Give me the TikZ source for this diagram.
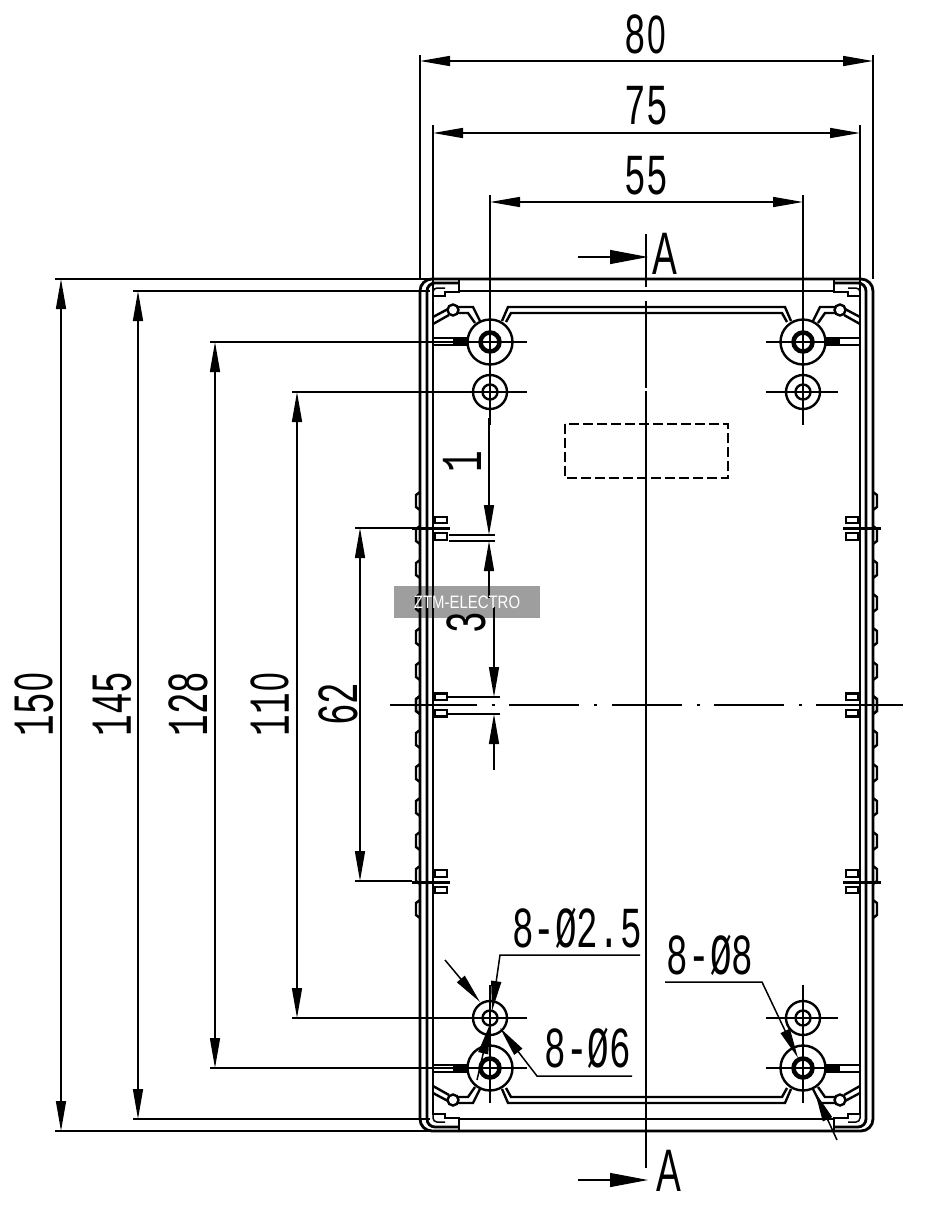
\documentclass[tikz,border=0pt]{standalone}
\usepackage{fontspec}
\setmainfont{Liberation Sans}
\newfontfamily\cadfont{Liberation Mono}
\usetikzlibrary{arrows.meta}
\tikzset{
	wall/.style={line width=2.8pt},
	body/.style={line width=2.4pt},
	thin line/.style={line width=1.5pt},
	center line/.style={line width=1.7pt},
	dim/.style={line width=1.5pt, {Triangle[length=30pt,width=10pt]}-{Triangle[length=30pt,width=10pt]}},
	tip/.style={line width=1.5pt, -{Triangle[length=30pt,width=10pt]}},
	section/.style={line width=1.2pt, -{Triangle[length=38pt,width=14pt]}},
	size/.style={inner sep=0pt, font=\cadfont\fontsize{58pt}{58pt}\selectfont},
	letter/.style={inner sep=0pt, font=\fontsize{60pt}{60pt}\selectfont}
}
\newcommand{\cadtext}[1]{\scalebox{0.62}[1]{#1}}
% the mono face has a dotted zero, the drawing a plain one
\newcommand{\cadzero}{\makebox[34.8pt]{\rmfamily\fontsize{54pt}{54pt}\selectfont 0}}
\begin{document}
\begin{tikzpicture}[x=1pt, y=-1pt]
	\useasboundingbox (0, 0) rectangle (935, 1205);

	% body outline
	\draw[wall, rounded corners=12pt] (420, 279) rectangle (873, 1131);
	\draw[wall] (459, 291) -- (833, 291);
	\draw[wall] (459, 1119) -- (833, 1119);

	% one quarter, mirrored four times
	\foreach \sx/\sy in {1/1, -1/1, 1/-1, -1/-1} {
		\begin{scope}[shift={(646.5, 705)}, xscale=\sx, yscale=\sy, shift={(-646.5, -705)}]
			\draw[wall, rounded corners=8pt] (427, 705) -- (427, 283) -- (459, 283);
			\draw[body] (433, 705) -- (433, 296) -- (445, 296) -- (445, 292) -- (459, 292) -- (459, 279);
			\draw[thin line, rounded corners=4pt] (433, 296) -- (433, 288) -- (445, 288);
			\draw[body] (433, 338) -- (467, 338);
			\fill (453, 339) rectangle (467, 346);
			\draw[body] (433, 345) -- (467, 345);
			% pocket and corner post
			\draw[body] (433, 317) -- (448, 309) (458, 307) -- (473, 307) -- (480, 321);
			\draw[body] (433, 324) -- (449, 315) (458, 313) -- (468, 313) -- (475, 323);
			\draw[body] (453, 310) circle[radius=5.5];
			\draw[body] (502, 321) -- (508, 307) -- (646.5, 307);
			\draw[body] (506, 322) -- (511, 313) -- (646.5, 313);
			% screw posts
			\draw[fill=white, body] (490, 342) circle[radius=22.5];
			\draw[line width=4.5pt] (490, 342) circle[radius=9.5];
			\draw[body] (490, 392) circle[radius=17];
			\draw[body] (490, 392) circle[radius=7.5];
			\draw[center line] (453, 342) -- (527, 342);
			\draw[center line] (455, 392) -- (527, 392);
			\draw[center line] (490, 307) -- (490, 425);
			% clips and side ribs
			\foreach \ya in {528, 705} {
				\draw[body] (435, \ya-11) rectangle (447, \ya-5);
				\draw[body] (435, \ya+5) rectangle (447, \ya+12);
			}
			\foreach \k in {0, ..., 6} {
				\draw[body] (420, 705-34*\k-9) -- (416, 705-34*\k-6) -- (416, 705-34*\k+6) -- (420, 705-34*\k+9);
			}
			\draw[line width=3pt] (412, 528) -- (450, 528);
		\end{scope}
	}

	% dashed window
	\draw[body, dash pattern=on 10pt off 4pt] (565, 424) rectangle (728, 478);

	% centre lines
	\draw[center line] (646, 234) -- (646, 287);
	\draw[center line] (646, 301) -- (646, 388);
	\draw[center line] (646, 391) -- (646, 1168);
	\draw[center line] (390, 705) -- (477, 705);
	\draw[center line] (492, 705) -- (495, 705);
	\draw[center line] (509, 705) -- (579, 705);
	\draw[center line] (594, 705) -- (597, 705);
	\draw[center line] (612, 705) -- (682, 705);
	\draw[center line] (697, 705) -- (700, 705);
	\draw[center line] (714, 705) -- (784, 705);
	\draw[center line] (799, 705) -- (802, 705);
	\draw[center line] (816, 705) -- (903, 705);

	% section marks
	\coordinate (a_top_s) at (578, 257);
	\coordinate (a_top_e) at (648, 257);
	\coordinate (a_bot_s) at (578, 1180);
	\coordinate (a_bot_e) at (648, 1180);
	\draw[section] (a_top_s) -- (a_top_e);
	\draw[section] (a_bot_s) -- (a_bot_e);
	\node[letter] (a_top) at (665, 254) {\cadtext{A}};
	\node[letter] (a_bot) at (669, 1171) {\cadtext{A}};

	% extension lines
	\draw[thin line] (420, 55) -- (420, 279);
	\draw[thin line] (873, 55) -- (873, 279);
	\draw[thin line] (433, 125) -- (433, 296);
	\draw[thin line] (860, 125) -- (860, 296);
	\draw[thin line] (490, 195) -- (490, 307);
	\draw[thin line] (803, 195) -- (803, 307);
	\draw[thin line] (55, 279) -- (430, 279);
	\draw[thin line] (55, 1131) -- (430, 1131);
	\draw[thin line] (133, 291) -- (430, 291);
	\draw[thin line] (133, 1119) -- (430, 1119);
	\draw[thin line] (210, 342) -- (453, 342);
	\draw[thin line] (210, 1068) -- (453, 1068);
	\draw[thin line] (292, 392) -- (455, 392);
	\draw[thin line] (292, 1018) -- (455, 1018);
	\draw[thin line] (355, 528) -- (412, 528);
	\draw[thin line] (355, 881) -- (412, 881);
	\draw[thin line] (449, 535) -- (495, 535);
	\draw[thin line] (449, 541) -- (495, 541);
	\draw[thin line] (447, 697) -- (500, 697);
	\draw[thin line] (447, 714) -- (500, 714);

	% dimensions
	\coordinate (d80_a) at (420, 61);
	\coordinate (d80_b) at (873, 61);
	\coordinate (d75_a) at (433, 133);
	\coordinate (d75_b) at (860, 133);
	\coordinate (d55_a) at (490, 202);
	\coordinate (d55_b) at (803, 202);
	\coordinate (d150_a) at (61, 279);
	\coordinate (d150_b) at (61, 1131);
	\coordinate (d145_a) at (138, 291);
	\coordinate (d145_b) at (138, 1119);
	\coordinate (d128_a) at (215, 342);
	\coordinate (d128_b) at (215, 1068);
	\coordinate (d110_a) at (297, 392);
	\coordinate (d110_b) at (297, 1018);
	\coordinate (d62_a) at (360, 528);
	\coordinate (d62_b) at (360, 881);
	\draw[dim] (d80_a) -- (d80_b);
	\draw[dim] (d75_a) -- (d75_b);
	\draw[dim] (d55_a) -- (d55_b);
	\draw[dim] (d150_a) -- (d150_b);
	\draw[dim] (d145_a) -- (d145_b);
	\draw[dim] (d128_a) -- (d128_b);
	\draw[dim] (d110_a) -- (d110_b);
	\draw[dim] (d62_a) -- (d62_b);
	\node[size] (l80) at (646, 34) {\cadtext{8\cadzero}};
	\node[size] (l75) at (646, 106) {\cadtext{75}};
	\node[size] (l55) at (646, 176) {\cadtext{55}};
	\node[size, rotate=90] (l150) at (34, 704) {\cadtext{15\cadzero}};
	\node[size, rotate=90] (l145) at (112, 704) {\cadtext{145}};
	\node[size, rotate=90] (l128) at (188, 704) {\cadtext{128}};
	\node[size, rotate=90] (l110) at (270, 704) {\cadtext{11\cadzero}};
	\node[size, rotate=90] (l62) at (338, 704) {\cadtext{62}};

	% small dimensions between the clips
	\coordinate (d1_up) at (489, 418);
	\coordinate (d1_upend) at (489, 535);
	\coordinate (d1_low) at (489, 598);
	\coordinate (d1_lowend) at (489, 541);
	\coordinate (d3_up) at (494, 607);
	\coordinate (d3_upend) at (494, 697);
	\coordinate (d3_low) at (494, 770);
	\coordinate (d3_lowend) at (494, 714);
	\draw[tip] (d1_up) -- (d1_upend);
	\draw[tip] (d1_low) -- (d1_lowend);
	\draw[tip] (d3_up) -- (d3_upend);
	\draw[tip] (d3_low) -- (d3_lowend);
	\node[size, rotate=90] (l1) at (462, 462) {\cadtext{1}};
	\node[size, rotate=90] (l3) at (466, 623) {\cadtext{3}};

	% hole callouts
	\coordinate (h25_a) at (640, 955);
	\coordinate (h25_b) at (500, 955);
	\coordinate (h25_tip) at (492, 1011);
	\coordinate (h25_c) at (477, 1080);
	\coordinate (h25_tipb) at (490, 1024);
	\draw[tip] (h25_a) -- (h25_b) -- (h25_tip);
	\draw[tip] (h25_c) -- (h25_tipb);
	\coordinate (h6_c) at (445, 960);
	\coordinate (h6_tipb) at (480, 1002);
	\coordinate (h6_a) at (632, 1076);
	\coordinate (h6_b) at (537, 1076);
	\coordinate (h6_tip) at (500, 1028);
	\draw[tip] (h6_c) -- (h6_tipb);
	\draw[tip] (h6_a) -- (h6_b) -- (h6_tip);
	\coordinate (h8_a) at (665, 982);
	\coordinate (h8_b) at (762, 982);
	\coordinate (h8_tip) at (798, 1058);
	\coordinate (h8_c) at (837, 1140);
	\coordinate (h8_tipb) at (815, 1092);
	\draw[tip] (h8_a) -- (h8_b) -- (h8_tip);
	\draw[tip] (h8_c) -- (h8_tipb);
	\node[size] (l25) at (577, 928) {\cadtext{8-Ø2.5}};
	\node[size] (l6) at (588, 1048) {\cadtext{8-Ø6}};
	\node[size] (l8) at (710, 955) {\cadtext{8-Ø8}};

	% watermark
	\node[fill=black, fill opacity=0.38, text opacity=1, text=white, minimum width=146pt, minimum height=32pt, inner sep=0pt, font=\fontsize{18pt}{18pt}\selectfont] (mark) at (467, 602) {\scalebox{0.83}[1]{ZTM-ELECTRO}};
\end{tikzpicture}
\end{document}
